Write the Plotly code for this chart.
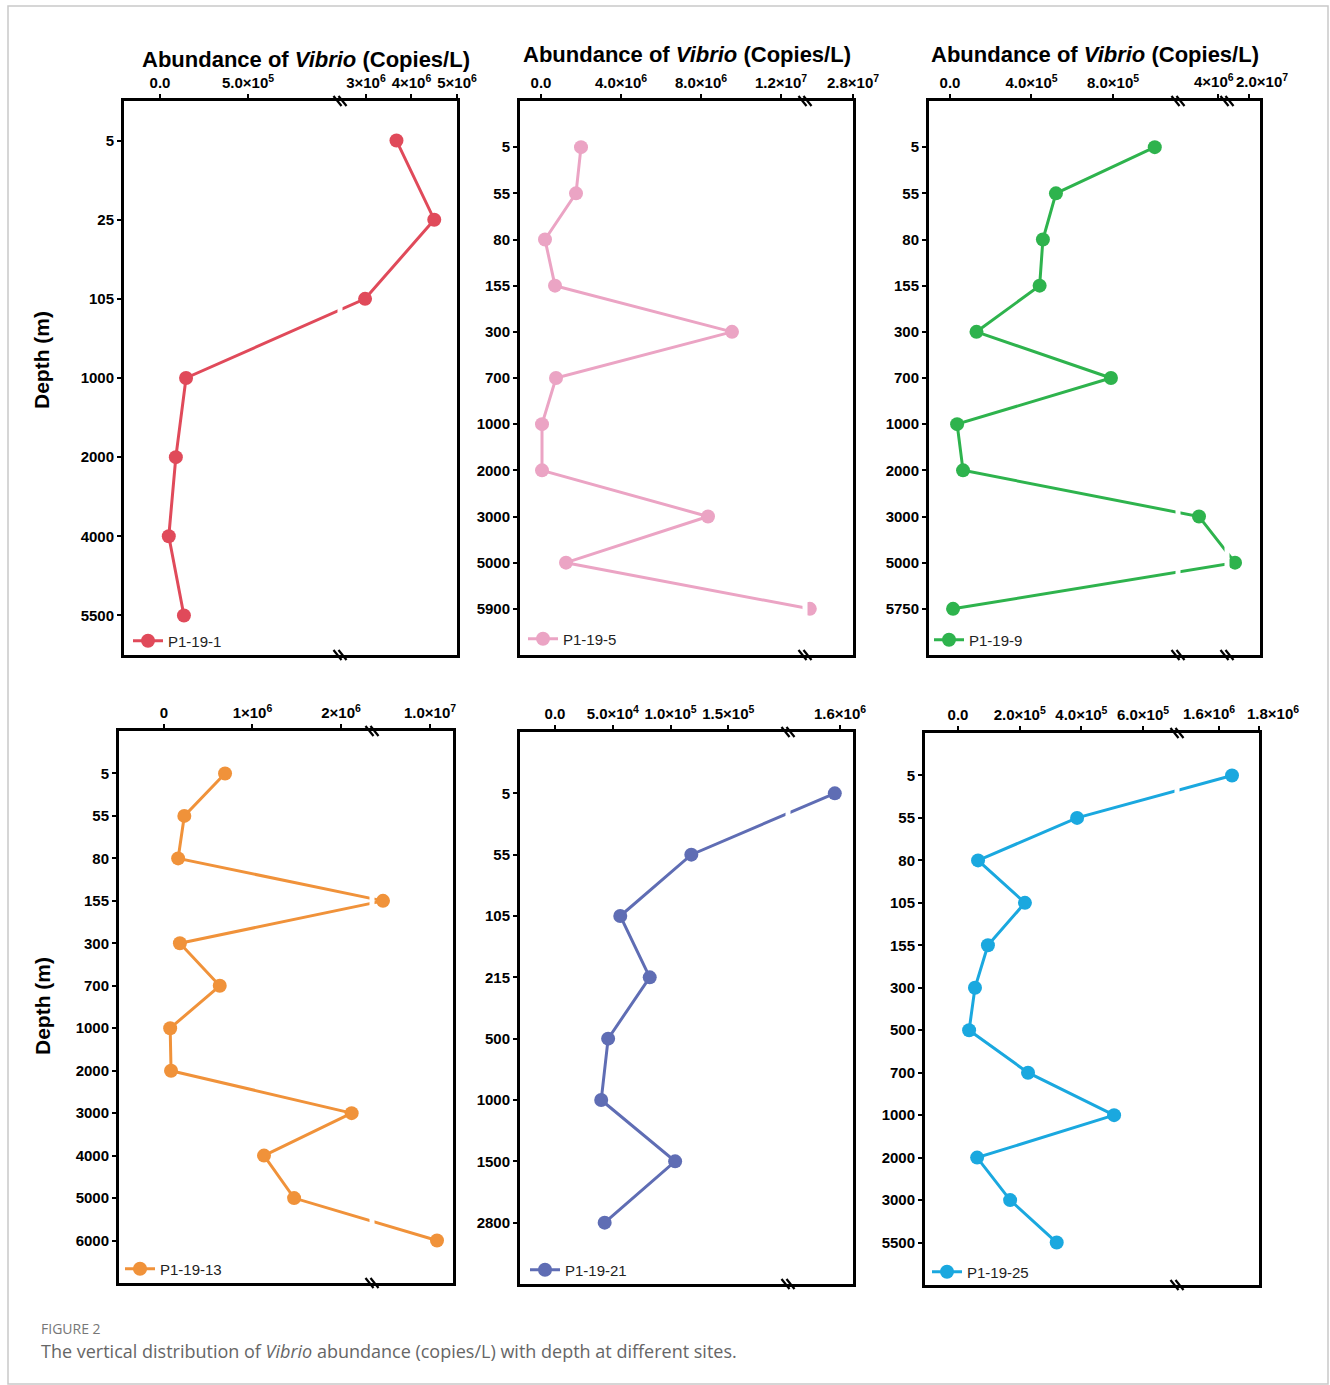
import plotly.graph_objects as go

W, H = 1330, 1385

# ---------------- data ----------------
site_names = ["P1-19-1", "P1-19-5", "P1-19-9", "P1-19-13", "P1-19-21", "P1-19-25"]

depth_1 = ["5", "25", "105", "1000", "2000", "4000", "5500"]
vibrio_1 = [3.67e6, 4.5e6, 2.98e6, 1.48e5, 0.9e5, 0.5e5, 1.36e5]

depth_5 = ["5", "55", "80", "155", "300", "700", "1000", "2000", "3000", "5000", "5900"]
vibrio_5 = [2.0e6, 1.75e6, 0.2e6, 0.7e6, 9.55e6, 0.75e6, 0.05e6, 0.05e6, 8.35e6, 1.25e6, 2.71e7]

depth_9 = ["5", "55", "80", "155", "300", "700", "1000", "2000", "3000", "5000", "5750"]
vibrio_9 = [1.005e6, 5.2e5, 4.56e5, 4.4e5, 1.3e5, 7.9e5, 0.35e5, 0.64e5, 3.525e6, 1.873e7, 0.15e5]

depth_13 = ["5", "55", "80", "155", "300", "700", "1000", "2000", "3000", "4000", "5000", "6000"]
vibrio_13 = [0.69e6, 0.23e6, 0.16e6, 9.53e6, 0.18e6, 0.63e6, 0.07e6, 0.08e6, 2.12e6, 1.13e6, 1.47e6, 1.007e7]

depth_21 = ["5", "55", "105", "215", "500", "1000", "1500", "2800"]
vibrio_21 = [1.59e6, 1.18e5, 0.565e5, 0.82e5, 0.46e5, 0.40e5, 1.04e5, 0.43e5]

depth_25 = ["5", "55", "80", "105", "155", "300", "500", "700", "1000", "2000", "3000", "5500"]
vibrio_25 = [1.665e6, 3.86e5, 0.65e5, 2.17e5, 0.97e5, 0.55e5, 0.36e5, 2.27e5, 5.06e5, 0.62e5, 1.69e5, 3.2e5]

ticks_1 = [0, 5e5, 3e6, 4e6, 5e6]
labels_1 = ["0.0", "5.0×10<sup>5</sup>", "3×10<sup>6</sup>", "4×10<sup>6</sup>", "5×10<sup>6</sup>"]
ticks_5 = [0, 4e6, 8e6, 1.2e7, 2.8e7]
labels_5 = ["0.0", "4.0×10<sup>6</sup>", "8.0×10<sup>6</sup>", "1.2×10<sup>7</sup>", "2.8×10<sup>7</sup>"]
ticks_9 = [0, 4e5, 8e5, 4e6, 2e7]
labels_9 = ["0.0", "4.0×10<sup>5</sup>", "8.0×10<sup>5</sup>", "4×10<sup>6</sup>", "2.0×10<sup>7</sup>"]
ticks_13 = [0, 1e6, 2e6, 1e7]
labels_13 = ["0", "1×10<sup>6</sup>", "2×10<sup>6</sup>", "1.0×10<sup>7</sup>"]
ticks_21 = [0, 5e4, 1e5, 1.5e5, 1.6e6]
labels_21 = ["0.0", "5.0×10<sup>4</sup>", "1.0×10<sup>5</sup>", "1.5×10<sup>5</sup>", "1.6×10<sup>6</sup>"]
ticks_25 = [0, 2e5, 4e5, 6e5, 1.6e6, 1.8e6]
labels_25 = ["0.0", "2.0×10<sup>5</sup>", "4.0×10<sup>5</sup>", "6.0×10<sup>5</sup>", "1.6×10<sup>6</sup>", "1.8×10<sup>6</sup>"]

# ---------------- layout / style ----------------
colors = ["#E04A5A", "#EBA4C4", "#2EB34D", "#F0923A", "#5F6DB4", "#1AA8DF"]

# broken-axis segments: (pixel start, pixel end, value at start, value at end)
# nudge: tick index -> horizontal pixel offset of its label (crowded labels near the breaks)
panels = [
    dict(depth=depth_1, vals=vibrio_1, ticks=ticks_1, labels=labels_1,
         box=(124, 457, 101, 655), segs=[(124, 340, -2.045e5, 1.0227e6), (340, 457, 2.429e6, 5.0e6)],
         breaks=[340], pad=0.5, leg=(128, 641), title=(306, 59), nudge={}),
    dict(depth=depth_5, vals=vibrio_5, ticks=ticks_5, labels=labels_5,
         box=(520, 853, 101, 655), segs=[(520, 805, -1.05e6, 1.32e7), (805, 853.5, 2.7e7, 2.801e7)],
         breaks=[805], pad=1, leg=(523, 639), title=(687, 54), nudge={}),
    dict(depth=depth_9, vals=vibrio_9, ticks=ticks_9, labels=labels_9,
         box=(929, 1260, 101, 655),
         segs=[(929, 1178, -1.03e5, 1.119e6), (1178, 1227, 3.0e6, 4.225e6), (1227, 1260, 1.8e7, 2.1e7)],
         breaks=[1178, 1227], pad=1, leg=(929, 640), title=(1095, 54), nudge={3: -4, 4: 13}),
    dict(depth=depth_13, vals=vibrio_13, ticks=ticks_13, labels=labels_13,
         box=(119, 453, 731, 1283), segs=[(119, 372, -5.08e5, 2.35e6), (372, 453, 9.42e6, 1.023e7)],
         breaks=[372], pad=1, leg=(120, 1269), title=None, nudge={}),
    dict(depth=depth_21, vals=vibrio_21, ticks=ticks_21, labels=labels_21,
         box=(520, 853, 732, 1284), segs=[(520, 788, -3.03e4, 2.017e5), (788, 853, 1.5e6, 1.625e6)],
         breaks=[788], pad=1, leg=(525, 1270), title=None, nudge={}),
    dict(depth=depth_25, vals=vibrio_25, ticks=ticks_25, labels=labels_25,
         box=(925, 1259, 733, 1285), segs=[(925, 1177, -1.07e5, 7.1e5), (1177, 1259.5, 1.39e6, 1.8025e6)],
         breaks=[1177], pad=1, leg=(927, 1272), title=None, nudge={4: -10, 5: 14}),
]

FONT = "Arial, Liberation Sans, sans-serif"
TICKFONT = dict(size=15, family=FONT, weight="bold", color="black")


def mapper(segs):
    def f(v):
        for p0, p1, v0, v1 in segs:
            if v0 <= v <= v1:
                return p0 + (v - v0) / (v1 - v0) * (p1 - p0)
        raise ValueError(v)
    return f


fig = go.Figure()
layout = dict(
    width=W, height=H, autosize=False, margin=dict(l=0, r=0, t=0, b=0, pad=0, autoexpand=False),
    paper_bgcolor="white", plot_bgcolor="white",
    font=dict(family=FONT, color="black"),
    showlegend=True,
)
shapes = []
annotations = []

for i, p in enumerate(panels):
    k = i + 1
    xa = "xaxis" if k == 1 else f"xaxis{k}"
    ya = "yaxis" if k == 1 else f"yaxis{k}"
    xr = "x" if k == 1 else f"x{k}"
    yr = "y" if k == 1 else f"y{k}"
    lg = "legend" if k == 1 else f"legend{k}"
    f = mapper(p["segs"])
    L, R, T, B = p["box"]
    n = len(p["depth"])

    fig.add_trace(go.Scatter(
        x=[f(v) for v in p["vals"]], y=p["depth"], xaxis=xr, yaxis=yr,
        mode="lines+markers", name=site_names[i], legend=lg,
        line=dict(color=colors[i], width=3),
        marker=dict(color=colors[i], size=14),
    ))

    # crowded labels are drawn as annotations, nudged sideways from their tick
    ticktext = []
    for j, (tv, tl) in enumerate(zip(p["ticks"], p["labels"])):
        if j in p["nudge"]:
            ticktext.append("")
            annotations.append(dict(
                xref=xr, yref="paper", x=f(tv), y=1 - (T - 9) / H, xshift=p["nudge"][j],
                xanchor="center", yanchor="bottom", showarrow=False, text=tl, font=TICKFONT,
            ))
        else:
            ticktext.append(tl)

    layout[xa] = dict(
        domain=[L / W, R / W], range=[L, R], anchor=yr, side="top", automargin=False,
        tickmode="array", tickvals=[f(t) for t in p["ticks"]], ticktext=ticktext,
        tickfont=TICKFONT, tickangle=0,
        showline=True, linecolor="black", linewidth=3, mirror=True,
        ticks="outside", ticklen=4, tickwidth=2, tickcolor="black",
        showgrid=False, zeroline=False, fixedrange=True,
    )
    layout[ya] = dict(
        domain=[1 - B / H, 1 - T / H], anchor=xr, type="category", automargin=False,
        categoryorder="array", categoryarray=p["depth"],
        range=[n - 1 + p["pad"], -p["pad"]],
        tickfont=TICKFONT, tickangle=0,
        showline=True, linecolor="black", linewidth=3, mirror=True,
        ticks="outside", ticklen=4, tickwidth=2, tickcolor="black",
        showgrid=False, zeroline=False, fixedrange=True,
    )
    lx, ly = p["leg"]
    layout[lg] = dict(
        x=lx / W, y=1 - ly / H, xanchor="left", yanchor="middle",
        bgcolor="rgba(0,0,0,0)", borderwidth=0,
        font=dict(size=15, family=FONT, color="#222"),
        itemwidth=30, tracegroupgap=0,
    )

    # axis breaks: white gap through lines + double-slash marks on both axes
    for bx in p["breaks"]:
        shapes.append(dict(type="line", xref="paper", yref="paper", layer="above",
                           x0=bx / W, x1=bx / W, y0=1 - (B - 3) / H, y1=1 - (T + 3) / H,
                           line=dict(color="white", width=5)))
        for ay in (T, B):
            for off in (-2.5, 2.5):
                shapes.append(dict(type="line", xref="paper", yref="paper", layer="above",
                                   x0=(bx + off - 4) / W, x1=(bx + off + 4) / W,
                                   y0=1 - (ay - 5) / H, y1=1 - (ay + 5) / H,
                                   line=dict(color="black", width=2.2)))

    if p["title"]:
        tx, ty = p["title"]
        annotations.append(dict(
            xref="paper", yref="paper", x=tx / W, y=1 - ty / H,
            xanchor="center", yanchor="middle", showarrow=False,
            text="<b>Abundance of <i>Vibrio</i> (Copies/L)</b>",
            font=dict(size=22, family=FONT, color="black"),
        ))

# y-axis titles
for cy in (360, 1006):
    annotations.append(dict(
        xref="paper", yref="paper", x=42 / W, y=1 - cy / H, textangle=-90,
        xanchor="center", yanchor="middle", showarrow=False,
        text="<b>Depth (m)</b>", font=dict(size=21, family=FONT, color="black"),
    ))

# caption
annotations.append(dict(
    xref="paper", yref="paper", x=39 / W, y=1 - 1328 / H, xanchor="left", yanchor="middle",
    showarrow=False, text="FIGURE 2", font=dict(size=14, family="Open Sans, sans-serif", color="#777777"),
))
annotations.append(dict(
    xref="paper", yref="paper", x=39 / W, y=1 - 1351 / H, xanchor="left", yanchor="middle",
    showarrow=False,
    text="The vertical distribution of <i>Vibrio</i> abundance (copies/L) with depth at different sites.",
    font=dict(size=18, family="Open Sans, sans-serif", color="#666666"),
))

# outer frame
shapes.append(dict(type="rect", xref="paper", yref="paper", layer="below",
                   x0=8 / W, x1=1328 / W, y0=1 - 1384 / H, y1=1 - 6 / H,
                   line=dict(color="#c9c9c9", width=1.5)))

layout["shapes"] = shapes
layout["annotations"] = annotations
fig.update_layout(**layout)

fig.write_html(
    "out.html",
    config={"responsive": False},
    post_script="document.body.style.margin='0';document.documentElement.style.overflow='hidden';",
)
